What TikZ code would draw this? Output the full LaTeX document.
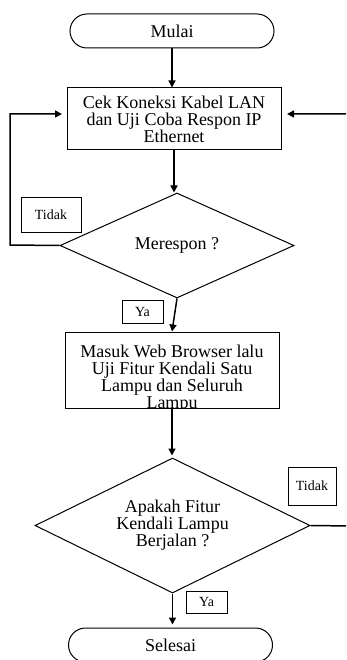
\documentclass[tikz,border=0pt]{standalone}
\usepackage{fontspec}
\setmainfont{Liberation Serif}
\usetikzlibrary{shapes.geometric,shapes.misc,arrows.meta}
\newcommand\flowfont{\fontsize{18}{17}\selectfont}
\newcommand\tagfont{\fontsize{14}{16}\selectfont}
\begin{document}
\begin{tikzpicture}[x=1pt,y=-1pt,
  arr/.style={line width=1.5pt,-{Triangle[length=7pt,width=7pt]}},
  term/.style={draw,line width=1pt,rounded rectangle,minimum width=204pt,minimum height=34pt,inner sep=0pt,font=\flowfont},
  proc/.style={draw,line width=1pt,minimum width=214pt,inner sep=0pt,align=center,font=\flowfont},
  dec/.style={draw,line width=1pt,diamond,inner sep=0pt},
  dectext/.style={align=center,font=\flowfont,inner sep=0pt},
  tag/.style={draw,line width=0.8pt,inner sep=0pt,font=\tagfont}]
\useasboundingbox (0,0) rectangle (346,660);
\clip (0,0) rectangle (346,660);

% main flow
\node[term] (mulai) at (172,31) {Mulai};
\node[proc,minimum height=62pt] (b1) at (174,119)
  {Cek Koneksi Kabel LAN\\dan Uji Coba Respon IP\\Ethernet};
\node[dec,minimum width=234pt,minimum height=105pt] (d1) at (177,245.5) {};
\node[dectext] (d1t) at (d1) {Merespon ?};
\node[proc,minimum height=76pt,
  path picture={\node[align=center,font=\flowfont,inner sep=0pt] (b2t)
    at ([yshift=-9pt]path picture bounding box.center)
    {Masuk Web Browser lalu\\Uji Fitur Kendali Satu\\Lampu dan Seluruh\\Lampu};}]
  (b2) at (172,370) {};
\node[dec,minimum width=275pt,minimum height=135pt] (d2) at (172.5,525.5) {};
\node[dectext] (d2t) at (d2) {Apakah Fitur\\Kendali Lampu\\Berjalan ?};
\node[term] (selesai) at (170.5,645) {Selesai};

% branch labels
\node[tag,minimum width=60pt,minimum height=35pt] (no1) at (51,214.5) {Tidak};
\node[tag,minimum width=41pt,minimum height=23pt] (yes1) at (142.5,311.5) {Ya};
\node[tag,minimum width=48pt,minimum height=38pt] (no2) at (312,486) {Tidak};
\node[tag,minimum width=41pt,minimum height=22pt] (yes2) at (206.5,602) {Ya};

% connectors
\coordinate (loopleft) at (10,245);
\coordinate (loopin) at (62,114);
\coordinate (loopright) at (352,526);
\coordinate (rightin) at (287,114);
\draw[arr] (mulai.south) -- (mulai.south |- b1.north);
\draw[arr] (b1.south) -- (b1.south |- d1.north);
\draw[arr] (d1.west) -- (loopleft) |- (loopin);
\draw[arr] (d1.south) -- (b2.north);
\draw[arr] (b2.south) -- ([yshift=2pt]b2.south |- d2.north);
\draw[arr] (d2.east) -- (loopright) |- (rightin);
\draw[arr] (d2.south) -- ([yshift=3pt]d2.south |- selesai.north);
\end{tikzpicture}
\end{document}
